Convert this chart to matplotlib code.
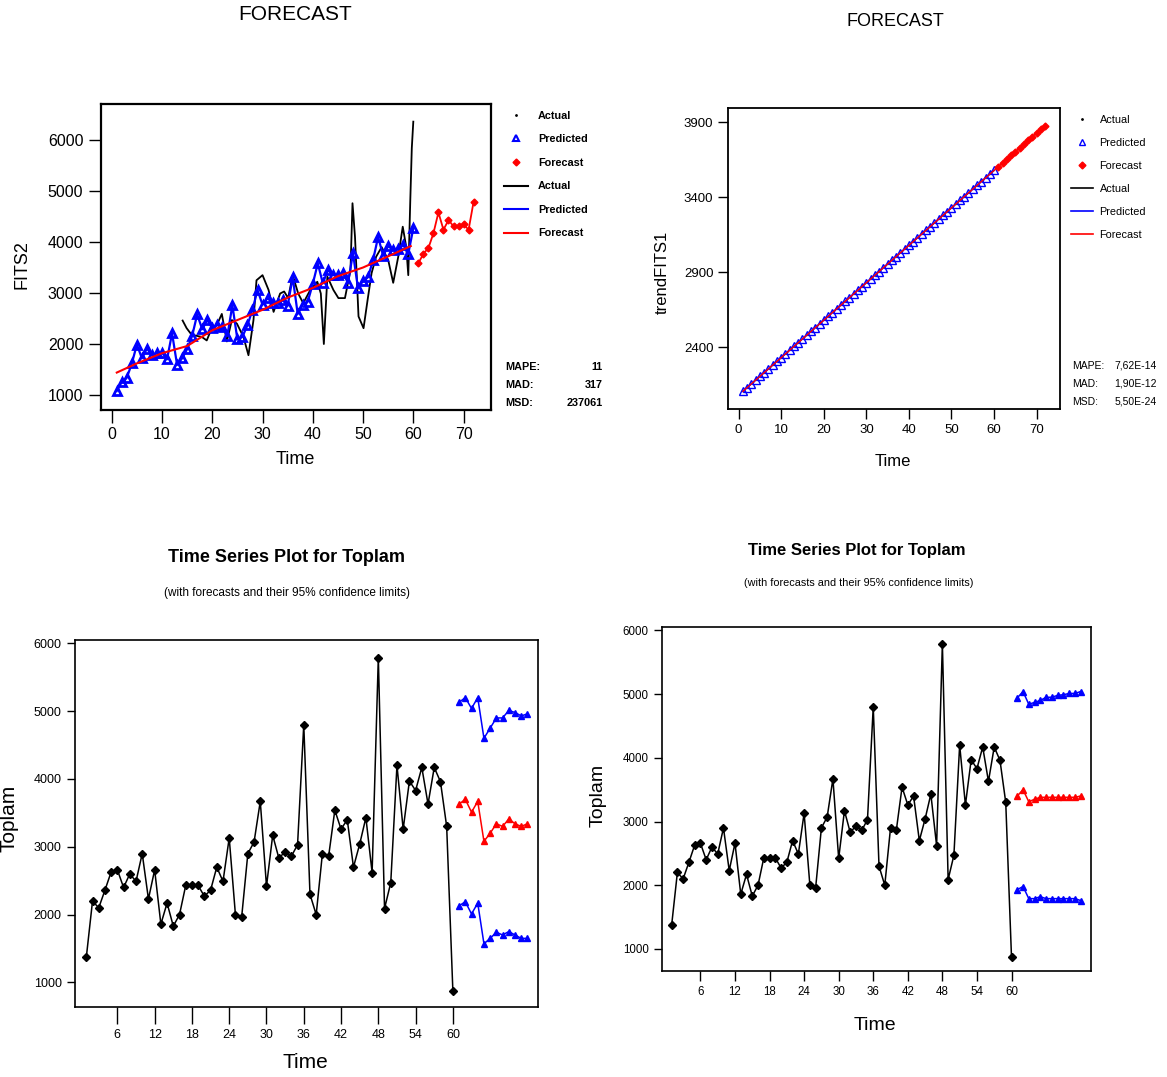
import matplotlib.pyplot as plt
from matplotlib.lines import Line2D

plt.rcParams['font.family'] = ['Liberation Sans', 'DejaVu Sans']

# ---- data ----
t_hist = list(range(1, 61))
t_fc = list(range(61, 73))

# top-left: FITS2
fits2_pred = [1080, 1260, 1340, 1620, 1990, 1720, 1910, 1780, 1820, 1830,
              1700, 2210, 1590, 1720, 1900, 2160, 2580, 2290, 2470, 2310,
              2370, 2330, 2160, 2760, 2090, 2140, 2370, 2670, 3060, 2770,
              2900, 2800, 2800, 2860, 2750, 3310, 2590, 2770, 2830, 3180,
              3580, 3190, 3450, 3350, 3350, 3390, 3200, 3780, 3090, 3240,
              3310, 3650, 4100, 3730, 3920, 3840, 3860, 3940, 3770, 4270]
fits2_fc = [3580, 3770, 3880, 4170, 4580, 4240, 4430, 4310, 4310, 4350, 4240, 4790]
trend_t = [1, 5, 10, 15, 20, 25, 30, 35, 40, 45, 50, 55, 59.5]
trend_v = [1440, 1620, 1820, 1960, 2270, 2470, 2670, 2910, 3100, 3330, 3500, 3720, 3920]
act_t = [14.1, 14.9, 15.9, 17.9, 18.9, 19.9, 20.9, 21.9, 22.9, 23.9, 24.9, 26.2, 27.2,
         28.2, 28.8, 30.0, 31.2, 32.2, 33.5, 34.3, 35.1, 36.0, 37.1, 38.1, 39.5, 40.9,
         41.6, 42.2, 42.9, 44.1, 45.1, 46.4, 47.5, 47.9, 48.4, 49.1, 50.1, 50.9, 51.7,
         52.6, 53.7, 55.0, 56.0, 57.0, 57.9, 58.6, 59.0, 59.4, 59.7, 60.0]
act_v = [2460, 2310, 2180, 2140, 2070, 2310, 2370, 2590, 2050, 2470, 2400, 2140, 1780,
         2470, 3250, 3350, 3060, 2630, 2990, 3030, 2900, 3350, 2990, 2800, 3060, 3220,
         2990, 2000, 3320, 3060, 2900, 2900, 3450, 4760, 4100, 2540, 2310, 2860, 3390,
         3710, 3900, 3650, 3200, 3710, 4300, 3900, 3350, 4820, 5840, 6360]

# top-right: trendFITS1
trend1_pred = [2104, 2129, 2154, 2179, 2204, 2229, 2254, 2279, 2304, 2329,
               2354, 2379, 2404, 2429, 2454, 2479, 2504, 2529, 2554, 2579,
               2604, 2629, 2654, 2679, 2704, 2729, 2754, 2779, 2804, 2829,
               2854, 2879, 2904, 2929, 2954, 2979, 3004, 3029, 3054, 3079,
               3104, 3129, 3154, 3179, 3204, 3229, 3254, 3279, 3304, 3329,
               3354, 3379, 3404, 3429, 3454, 3479, 3504, 3529, 3554, 3579]
trend1_fc = [3604, 3629, 3654, 3679, 3704, 3729, 3754, 3779, 3804, 3829, 3854, 3879]

# bottom: Toplam
toplam = [1370, 2200, 2100, 2360, 2630, 2660, 2400, 2600, 2490, 2900,
          2230, 2660, 1860, 2170, 1830, 2000, 2430, 2430, 2430, 2270,
          2360, 2700, 2490, 3130, 2000, 1960, 2900, 3070, 3670, 2420,
          3170, 2830, 2930, 2860, 3030, 4800, 2300, 2000, 2900, 2860,
          3540, 3260, 3400, 2700, 3040, 3430, 2620, 5790, 2090, 2470,
          4200, 3260, 3970, 3830, 4170, 3630, 4170, 3960, 3300, 870]
fc_a = [3630, 3700, 3510, 3670, 3080, 3200, 3340, 3300, 3410, 3340, 3300, 3340]
up_a = [5130, 5200, 5040, 5200, 4600, 4750, 4900, 4900, 5010, 4980, 4930, 4960]
lo_a = [2130, 2190, 2010, 2170, 1570, 1650, 1740, 1700, 1750, 1700, 1650, 1650]
fc_b = [3400, 3500, 3310, 3350, 3380, 3380, 3380, 3380, 3380, 3380, 3380, 3400]
up_b = [4940, 5040, 4840, 4870, 4900, 4950, 4950, 4980, 4990, 5010, 5010, 5040]
lo_b = [1930, 1980, 1790, 1790, 1820, 1790, 1790, 1790, 1790, 1790, 1790, 1760]

stats1 = [('MAPE:', '11'), ('MAD:', '317'), ('MSD:', '237061')]
stats2 = [('MAPE:', '7,62E-14'), ('MAD:', '1,90E-12'), ('MSD:', '5,50E-24')]

W, H = 1167, 1077
fig = plt.figure(figsize=(W / 100, H / 100), dpi=100)


def box(l, t, r, b):
    return [l / W, 1 - b / H, (r - l) / W, (b - t) / H]


def ftext(x, y, s, **kw):
    fig.text(x / W, 1 - y / H, s, **kw)


def style(ax, lw, tl, lab):
    for sp in ax.spines.values():
        sp.set_linewidth(lw)
    ax.tick_params(direction='out', length=tl, width=1, labelsize=lab, top=False, right=False)


# ---------- top-left ----------
ax1 = fig.add_axes(box(100.7, 104, 490.7, 410))
ax1.plot(act_t, act_v, color='black', lw=1.3)
ax1.plot(t_hist, fits2_pred, color='blue', lw=1.6, marker='^', ms=6, mfc='none', mew=2)
ax1.plot(trend_t, trend_v, color='red', lw=1.5)
ax1.plot(t_fc, fits2_fc, color='red', lw=1.3, marker='D', ms=3.5)
ax1.set_xlim(-2.2, 75.4)
ax1.set_ylim(706, 6706)
ax1.set_xticks(range(0, 71, 10))
ax1.set_yticks(range(1000, 6001, 1000))
style(ax1, 1.6, 9, 11.5)
h1 = [Line2D([], [], ls='none', marker='.', ms=2, color='black'),
      Line2D([], [], ls='none', marker='^', ms=5, mfc='none', mew=1.5, color='blue'),
      Line2D([], [], ls='none', marker='D', ms=3.5, color='red'),
      Line2D([], [], color='black', lw=1.5),
      Line2D([], [], color='blue', lw=1.5),
      Line2D([], [], color='red', lw=1.5)]
ax1.legend(h1, ['Actual', 'Predicted', 'Forecast', 'Actual', 'Predicted', 'Forecast'],
           loc='upper left', bbox_to_anchor=(1.01, 1.01), frameon=False,
           handlelength=2.2, labelspacing=1.25, handletextpad=0.9,
           prop={'weight': 'bold', 'size': 7.8})
for i, (k, v) in enumerate(stats1):
    ftext(505, 367 + 18 * i, k, fontsize=7.8, weight='bold', va='center', ha='left')
    ftext(603, 367 + 18 * i, v, fontsize=7.8, weight='bold', va='center', ha='right')
ftext(295, 15, 'FORECAST', fontsize=15, ha='center', va='center')
ftext(22, 265, 'FITS2', fontsize=13, rotation=90, ha='center', va='center')
ftext(295, 460, 'Time', fontsize=13, ha='center', va='center')

# ---------- top-right ----------
ax2 = fig.add_axes(box(728, 108, 1060, 409))
ax2.plot(t_hist, trend1_pred, color='blue', lw=1.2, marker='^', ms=6, mfc='none', mew=1)
ax2.plot(t_hist + t_fc, trend1_pred + trend1_fc, color='red', lw=1.0)
ax2.plot(t_fc, trend1_fc, ls='none', color='red', marker='D', ms=3.5)
ax2.set_xlim(-2.5, 75.5)
ax2.set_ylim(1986, 3996)
ax2.set_xticks(range(0, 71, 10))
ax2.set_yticks([2400, 2900, 3400, 3900])
style(ax2, 1.3, 7, 9.5)
h2 = [Line2D([], [], ls='none', marker='.', ms=2, color='black'),
      Line2D([], [], ls='none', marker='^', ms=5, mfc='none', mew=1, color='blue'),
      Line2D([], [], ls='none', marker='D', ms=3.5, color='red'),
      Line2D([], [], color='black', lw=1.2),
      Line2D([], [], color='blue', lw=1.2),
      Line2D([], [], color='red', lw=1.2)]
ax2.legend(h2, ['Actual', 'Predicted', 'Forecast', 'Actual', 'Predicted', 'Forecast'],
           loc='upper left', bbox_to_anchor=(1.005, 1.01), frameon=False,
           handlelength=2.0, labelspacing=1.2, handletextpad=0.6,
           prop={'size': 7.8})
for i, (k, v) in enumerate(stats2):
    ftext(1072, 366 + 18 * i, k, fontsize=7.5, va='center', ha='left')
    ftext(1157, 366 + 18 * i, v, fontsize=7.5, va='center', ha='right')
ftext(895, 21, 'FORECAST', fontsize=13, ha='center', va='center')
ftext(662, 272, 'trendFITS1', fontsize=12, rotation=90, ha='center', va='center')
ftext(893, 462, 'Time', fontsize=12, ha='center', va='center')


# ---------- bottom panels ----------
def toplam_panel(ax, fc, up, lo, tl, lab):
    ax.plot(t_hist, toplam, color='black', lw=1.1, marker='D', ms=4.5)
    ax.plot(t_fc, up, color='blue', lw=1.1, marker='^', ms=4.5)
    ax.plot(t_fc, fc, color='red', lw=1.1, marker='^', ms=4.5)
    ax.plot(t_fc, lo, color='blue', lw=1.1, marker='^', ms=4.5)
    ax.set_xticks(range(6, 61, 6))
    ax.set_yticks(range(1000, 6001, 1000))
    style(ax, 1.2, 6, lab)
    ax.tick_params(axis='x', length=tl)


ax3 = fig.add_axes(box(75, 640, 538, 1007))
toplam_panel(ax3, fc_a, up_a, lo_a, 12, 9)
ax3.set_xlim(-0.82, 73.7)
ax3.set_ylim(638, 6049)
ftext(287, 558, 'Time Series Plot for Toplam', fontsize=13, weight='bold', ha='center', va='center')
ftext(287, 593, '(with forecasts and their 95% confidence limits)', fontsize=8.5, ha='center', va='center')
ftext(9, 818, 'Toplam', fontsize=15, rotation=90, ha='center', va='center')
ftext(305, 1063, 'Time', fontsize=15, ha='center', va='center')

ax4 = fig.add_axes(box(662, 627, 1091, 971))
toplam_panel(ax4, fc_b, up_b, lo_b, 7, 8.3)
ax4.set_xlim(-0.67, 73.8)
ax4.set_ylim(654, 6053)
ftext(857, 551, 'Time Series Plot for Toplam', fontsize=12, weight='bold', ha='center', va='center')
ftext(859, 583, '(with forecasts and their 95% confidence limits)', fontsize=7.8, ha='center', va='center')
ftext(598, 795, 'Toplam', fontsize=14, rotation=90, ha='center', va='center')
ftext(875, 1025, 'Time', fontsize=14, ha='center', va='center')

fig.savefig('out.png', dpi=100)
